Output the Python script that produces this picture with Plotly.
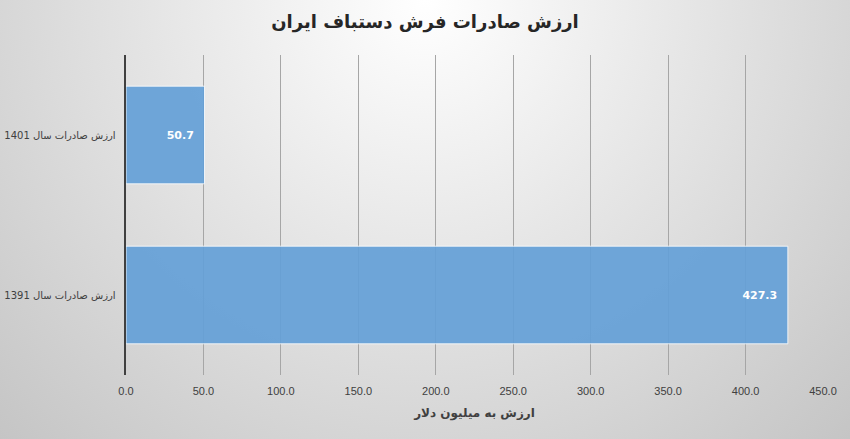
import plotly.graph_objects as go

# data
categories = ["ارزش صادرات سال 1391", "ارزش صادرات سال 1401"]
values = [427.3, 50.7]
tick_vals = [0, 50, 100, 150, 200, 250, 300, 350, 400, 450]

title_text = "ارزش صادرات فرش دستباف ایران"
x_title = "ارزش به میلیون دلار"

# soft radial background like the office chart style
bg_svg = (
    "data:image/svg+xml;utf8,"
    "<svg xmlns='http://www.w3.org/2000/svg' width='850' height='439' preserveAspectRatio='none'>"
    "<defs><radialGradient id='g' gradientUnits='userSpaceOnUse' cx='425' cy='0' r='620'>"
    "<stop offset='0' stop-color='%23FFFFFF'/>"
    "<stop offset='1' stop-color='%23C4C4C4'/>"
    "</radialGradient></defs>"
    "<rect width='850' height='439' fill='url(%23g)'/></svg>"
)

fig = go.Figure()
fig.add_trace(
    go.Bar(
        y=categories,
        x=values,
        orientation="h",
        marker=dict(
            color="rgba(100, 160, 215, 0.92)",
            line=dict(color="rgba(255, 255, 255, 0.8)", width=1),
        ),
        text=[f"{v:.1f}" for v in values],
        textposition="inside",
        insidetextanchor="end",
        textfont=dict(color="white", size=11, family="DejaVu Sans"),
        texttemplate="<b>%{text}  </b>",
        hoverinfo="skip",
    )
)

fig.update_layout(
    width=850,
    height=439,
    margin=dict(l=126, r=27, t=55, b=64, autoexpand=False),
    paper_bgcolor="#DCDCDC",
    plot_bgcolor="rgba(0, 0, 0, 0)",
    bargap=0.39,
    showlegend=False,
    title=dict(
        text="<b>" + title_text + "</b>",
        x=0.5,
        xanchor="center",
        y=0.95,
        yanchor="middle",
        font=dict(size=18, color="#262626", family="DejaVu Sans"),
    ),
    images=[
        dict(
            source=bg_svg,
            xref="paper",
            yref="paper",
            x=-126 / 697,
            y=1 + 55 / 320,
            sizex=850 / 697,
            sizey=439 / 320,
            xanchor="left",
            yanchor="top",
            sizing="stretch",
            layer="below",
        )
    ],
    xaxis=dict(
        range=[0, 450],
        tickvals=tick_vals,
        ticktext=[f"{v:.1f}" for v in tick_vals],
        ticks="outside",
        ticklen=6,
        tickcolor="rgba(0, 0, 0, 0)",
        showgrid=True,
        gridcolor="#A6A6A6",
        gridwidth=1,
        zeroline=False,
        showline=False,
        automargin=False,
        tickfont=dict(size=11, color="#404040", family="Liberation Sans Narrow, Liberation Sans"),
        title=dict(
            text="<b>" + x_title + "</b>",
            font=dict(size=12, color="#404040", family="DejaVu Sans"),
            standoff=12,
        ),
    ),
    yaxis=dict(
        showline=True,
        linecolor="#404040",
        linewidth=2,
        showgrid=False,
        automargin=False,
        tickfont=dict(size=10, color="#404040", family="DejaVu Sans"),
        ticksuffix="  ",
    ),
)

# drop the default page margin so the figure fills the window
fig.write_html(
    "out.html",
    config={"displayModeBar": False},
    post_script="document.body.style.margin = '0';",
)
